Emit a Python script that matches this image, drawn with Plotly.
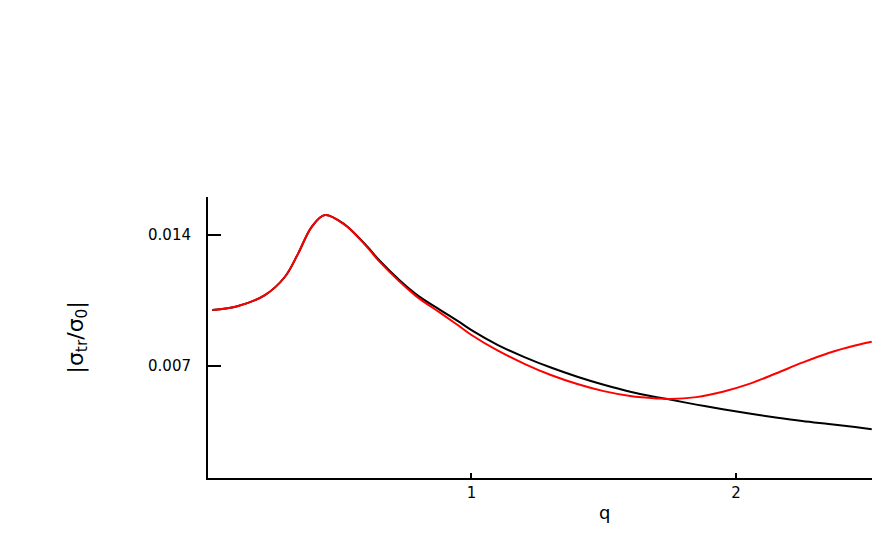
import plotly.graph_objects as go

# values
q_red = [0.02, 0.118, 0.219, 0.295, 0.345, 0.396, 0.446, 0.522, 0.578, 0.616,
         0.654, 0.786, 0.881, 0.949, 1.0, 1.1, 1.2, 1.3, 1.4, 1.5, 1.6, 1.7,
         1.75, 1.85, 1.95, 2.05, 2.15, 2.25, 2.35, 2.45, 2.513]
sig_red = [0.00999, 0.01021, 0.01079, 0.01177, 0.01302, 0.01444, 0.01507, 0.01453,
           0.01378, 0.01318, 0.01255, 0.01079, 0.00985, 0.00918, 0.00866, 0.00782,
           0.00712, 0.00652, 0.00604, 0.00566, 0.00540, 0.00527, 0.00524, 0.00534,
           0.00563, 0.00605, 0.00660, 0.00718, 0.00770, 0.00810, 0.00830]

q_black = [0.02, 0.118, 0.219, 0.295, 0.345, 0.396, 0.446, 0.522, 0.578, 0.616,
           0.654, 0.786, 0.881, 0.949, 1.0, 1.1, 1.2, 1.3, 1.4, 1.5, 1.6, 1.7,
           1.75, 1.85, 1.95, 2.05, 2.15, 2.25, 2.35, 2.45, 2.513]
sig_black = [0.00999, 0.01021, 0.01079, 0.01177, 0.01302, 0.01444, 0.01507, 0.01455,
             0.01380, 0.01323, 0.01261, 0.01088, 0.01000, 0.00940, 0.00892, 0.00812,
             0.00748, 0.00692, 0.00643, 0.00600, 0.00563, 0.00534, 0.00521, 0.00494,
             0.00469, 0.00446, 0.00425, 0.00406, 0.00390, 0.00374, 0.00363]

x_ticks = [1, 2]
y_ticks = [0.007, 0.014]
y_ticktext = ['0.007', '0.014']

font = 'DejaVu Sans, Liberation Sans, sans-serif'

fig = go.Figure()
fig.add_trace(go.Scatter(x=q_black, y=sig_black, mode='lines',
                         line=dict(color='black', width=2, shape='spline'),
                         hoverinfo='none'))
fig.add_trace(go.Scatter(x=q_red, y=sig_red, mode='lines',
                         line=dict(color='#ff0000', width=2, shape='spline'),
                         hoverinfo='none'))

fig.update_layout(
    width=872, height=545,
    margin=dict(l=208, r=0, t=197, b=67),
    plot_bgcolor='white', paper_bgcolor='white',
    showlegend=False,
    font=dict(family=font, color='black', size=15),
    xaxis=dict(range=[0.004, 2.514], tickvals=x_ticks, ticks='inside', ticklen=5,
               tickwidth=1.5, tickcolor='black', showline=True, linecolor='black',
               linewidth=2, showgrid=False, zeroline=False,
               tickfont=dict(size=15), ticklabelstandoff=0),
    yaxis=dict(range=[0.00102, 0.01603], tickvals=y_ticks, ticktext=y_ticktext,
               ticks='inside', ticklen=13, tickwidth=1.5, tickcolor='black',
               showline=True, linecolor='black', linewidth=2, showgrid=False,
               zeroline=False, tickfont=dict(size=15), ticklabelstandoff=12),
)

fig.add_annotation(text='q', xref='paper', yref='paper', x=(604 - 208) / 664,
                   y=-(512 - 478) / 281, showarrow=False, font=dict(size=18),
                   yanchor='middle', xanchor='center')
fig.add_annotation(text='|σ<sub>tr</sub>/σ<sub>0</sub>|', xref='paper', yref='paper',
                   x=-(208 - 77) / 664, y=0.5, textangle=-90, showarrow=False,
                   font=dict(size=22), xanchor='center', yanchor='middle')

fig.write_html('out.html', config={'displayModeBar': False},
               post_script="document.body.style.margin='0';"
                           "document.body.style.overflow='hidden';")
